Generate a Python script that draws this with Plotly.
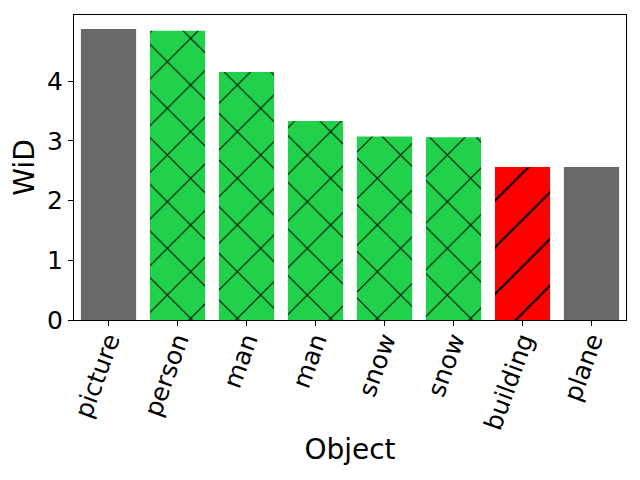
import plotly.graph_objs as go

objects = ["picture", "person", "man", "man", "snow", "snow", "building", "plane"]
wid_values = [4.87, 4.84, 4.15, 3.33, 3.07, 3.06, 2.56, 2.56]
bar_colors = ["#696969", "#22d14b", "#22d14b", "#22d14b", "#22d14b", "#22d14b", "#ff0000", "#696969"]
hatches = ["", "x", "x", "x", "x", "x", "/", ""]

positions = list(range(len(objects)))

fig = go.Figure()

# one trace per bar so the hatch colour isn't overridden by per-point colours
for pos, val, col, hatch in zip(positions, wid_values, bar_colors, hatches):
    fig.add_trace(
        go.Bar(
            x=[pos],
            y=[val],
            width=0.8,
            marker=dict(
                color=col,
                line=dict(width=0),
                pattern=dict(shape=hatch, fgcolor="black", fgopacity=1,
                             size=33, solidity=0.06, fillmode="overlay"),
            ),
        )
    )

axis_common = dict(
    showline=True, linecolor="black", linewidth=1, mirror=True,
    ticks="outside", ticklen=5, tickwidth=1, tickcolor="black",
    showgrid=False, zeroline=False, automargin=False,
    tickfont=dict(size=25, color="black", family="DejaVu Sans"),
)

# page body has an 8px margin, so the figure is shrunk by 8px and shifted
fig.update_layout(
    width=632, height=472,
    margin=dict(l=66, r=14, t=7, b=160),
    plot_bgcolor="white", paper_bgcolor="white",
    font=dict(family="DejaVu Sans", color="black", size=25),
    showlegend=False,
    barmode="overlay",
    xaxis=dict(
        **axis_common,
        range=[-0.5, 7.5],
        tickvals=positions, ticktext=objects, tickangle=-70,
        ticklabelstandoff=-10,
        title=dict(text="Object", font=dict(size=28), standoff=6),
    ),
    yaxis=dict(
        **axis_common,
        range=[0, 5.105],
        tickvals=[0, 1, 2, 3, 4],
        title=dict(text="WiD", font=dict(size=28), standoff=5),
    ),
)

fig.write_html("out.html")
